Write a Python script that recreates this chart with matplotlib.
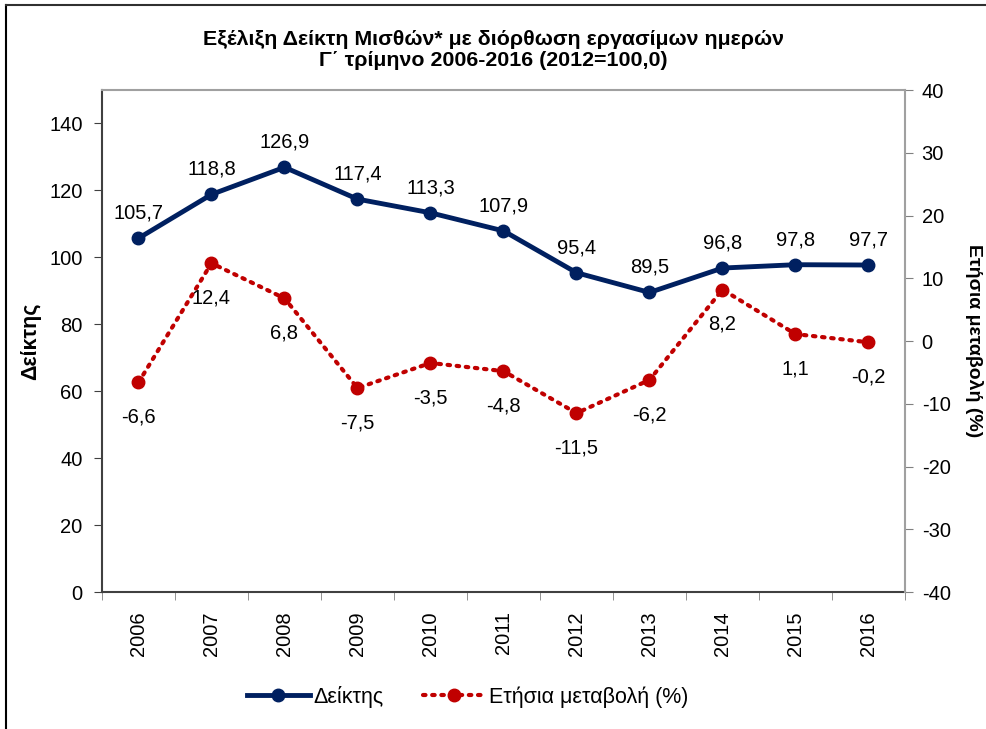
import matplotlib.pyplot as plt
from matplotlib.lines import Line2D

plt.rcParams["font.family"] = ["Liberation Sans", "DejaVu Sans"]
plt.rcParams["axes.unicode_minus"] = False

years = ["2006", "2007", "2008", "2009", "2010", "2011", "2012", "2013", "2014", "2015", "2016"]
index_vals = [105.7, 118.8, 126.9, 117.4, 113.3, 107.9, 95.4, 89.5, 96.8, 97.8, 97.7]
change_vals = [-6.6, 12.4, 6.8, -7.5, -3.5, -4.8, -11.5, -6.2, 8.2, 1.1, -0.2]

blue = "#002060"
red = "#c00000"
W, H = 987, 729

def fmt(v):
    return f"{v:.1f}".replace(".", ",")

fig = plt.figure(figsize=(W / 100, H / 100), dpi=100)
# outer frame: only top and left edges are visible in the crop
fig.lines.append(Line2D([6 / W, 6 / W], [0, 1 - 5 / H], transform=fig.transFigure,
                        color="black", linewidth=1.5))
fig.lines.append(Line2D([6 / W, 1], [1 - 5 / H, 1 - 5 / H], transform=fig.transFigure,
                        color="#303030", linewidth=1.5))

ax = fig.add_axes([102 / W, 1 - 592 / H, (905 - 102) / W, (592 - 90) / H])
ax2 = ax.twinx()

x = range(len(years))
ax.plot(x, index_vals, color=blue, linewidth=3.5, marker="o", markersize=9, zorder=3)
ax2.plot(x, change_vals, color=red, linewidth=3, linestyle=(0, (0.6, 1.6)),
         dash_capstyle="round", marker="o", markersize=9, zorder=3)

for i, v in enumerate(index_vals):
    ax.annotate(fmt(v), (i, v), xytext=(0, 18), textcoords="offset points",
                ha="center", va="center", fontsize=14.5)
for i, v in enumerate(change_vals):
    ax2.annotate(fmt(v), (i, v), xytext=(0, -25), textcoords="offset points",
                 ha="center", va="center", fontsize=14.5)

ax.set_xlim(-0.5, len(years) - 0.5)
ax.set_ylim(0, 150)
ax.set_yticks(range(0, 141, 20))
ax2.set_ylim(-40, 40)
ax2.set_yticks(range(-40, 41, 10))

ax.set_xticks(list(x))
ax.set_xticklabels(years, rotation=90, fontsize=14.5)
ax.set_xticks([i - 0.5 for i in range(len(years) + 1)], minor=True)
ax.tick_params(axis="x", which="major", length=0, pad=14)
ax.tick_params(axis="x", which="minor", length=6, color="#808080")
ax.tick_params(axis="y", labelsize=14.5, length=6, pad=8, color="#404040")
ax2.tick_params(axis="y", labelsize=14.5, length=6, pad=6, color="#808080")

for s in ["left", "bottom"]:
    ax.spines[s].set_color("#404040")
    ax.spines[s].set_linewidth(1.5)
for s in ["top", "right"]:
    ax2.spines[s].set_color("#a0a0a0")
    ax2.spines[s].set_linewidth(1.5)
ax2.spines["left"].set_visible(False)
ax2.spines["bottom"].set_visible(False)
ax.spines["top"].set_visible(False)
ax.spines["right"].set_visible(False)

ax.set_ylabel("Δείκτης", fontsize=15.5, fontweight="bold", va="center")
ax.yaxis.set_label_coords((31 - 102) / (905 - 102), 0.5)
ax2.set_ylabel("Ετήσια μεταβολή (%)", fontsize=14, fontweight="bold", rotation=-90, va="center")
ax2.yaxis.set_label_coords((974 - 102) / (905 - 102), 0.5)

fig.text(0.5, 1 - 50 / H, "Εξέλιξη Δείκτη Μισθών* με διόρθωση εργασίμων ημερών\nΓ΄ τρίμηνο 2006-2016 (2012=100,0)",
         ha="center", va="center", fontsize=15.4, fontweight="bold", linespacing=1.15)

handles = [
    Line2D([], [], color=blue, linewidth=3.5, marker="o", markersize=9),
    Line2D([], [], color=red, linewidth=3, linestyle=(0, (0.6, 1.6)),
           dash_capstyle="round", marker="o", markersize=9),
]
fig.legend(handles, ["Δείκτης", "Ετήσια μεταβολή (%)"], loc="center",
           bbox_to_anchor=(468 / W, 1 - 697 / H), ncol=2, frameon=False,
           fontsize=15.5, handlelength=2.9, columnspacing=1.8, handletextpad=0.2)

fig.savefig("out.png", dpi=100)
